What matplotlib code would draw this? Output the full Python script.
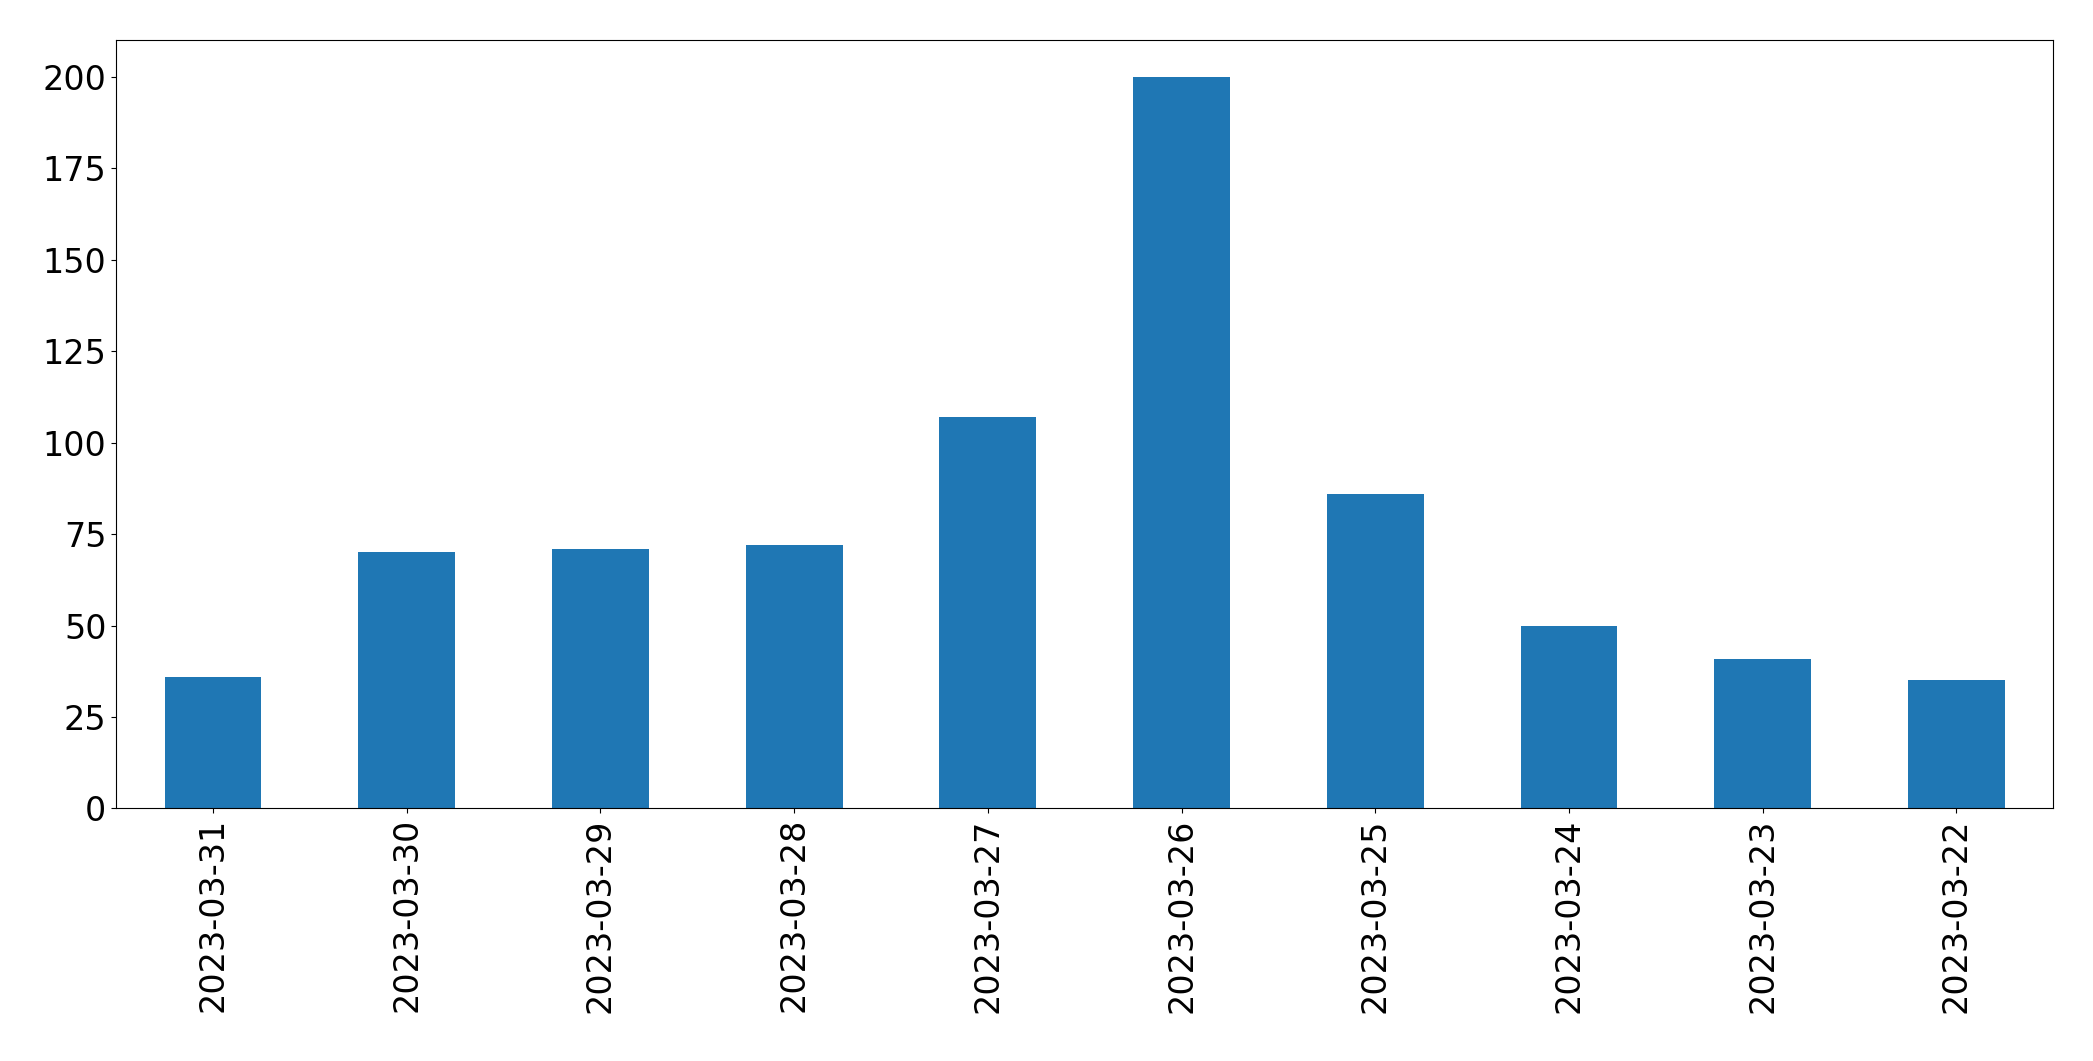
import matplotlib
matplotlib.use("Agg")
import matplotlib.pyplot as plt

dates = ["2023-03-31","2023-03-30","2023-03-29","2023-03-28","2023-03-27",
         "2023-03-26","2023-03-25","2023-03-24","2023-03-23","2023-03-22"]
counts = [36, 70, 71, 72, 107, 200, 86, 50, 41, 35]

fig = plt.figure(figsize=(20.93, 10.61), dpi=100)
ax = fig.add_axes([0.0555, 0.238, 0.9255, 0.724])
x = range(len(dates))
ax.bar(x, counts, width=0.5, color="#1f77b4")
ax.set_xticks(list(x))
ax.set_xticklabels(dates, rotation=90)
ax.set_xlim(-0.5, len(dates) - 0.5)
ax.set_ylim(0, 210)
ax.set_yticks(range(0, 201, 25))
ax.tick_params(labelsize=24)
fig.savefig("out.png", dpi=100)
